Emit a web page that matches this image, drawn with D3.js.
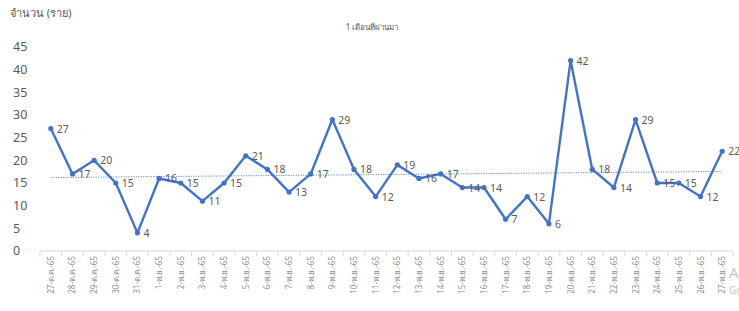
<!DOCTYPE html>
<html>
<head>
<meta charset="utf-8">
<script src="https://cdn.jsdelivr.net/npm/d3@7"></script>
<style>
  body { margin: 0; background: #fff; }
  svg { display: block; }
</style>
</head>
<body>
<div id="chart"></div>
<script>
// chart data
var days = ["27-ต.ค.-65", "28-ต.ค.-65", "29-ต.ค.-65", "30-ต.ค.-65", "31-ต.ค.-65",
  "1-พ.ย.-65", "2-พ.ย.-65", "3-พ.ย.-65", "4-พ.ย.-65", "5-พ.ย.-65", "6-พ.ย.-65",
  "7-พ.ย.-65", "8-พ.ย.-65", "9-พ.ย.-65", "10-พ.ย.-65", "11-พ.ย.-65", "12-พ.ย.-65",
  "13-พ.ย.-65", "14-พ.ย.-65", "15-พ.ย.-65", "16-พ.ย.-65", "17-พ.ย.-65", "18-พ.ย.-65",
  "19-พ.ย.-65", "20-พ.ย.-65", "21-พ.ย.-65", "22-พ.ย.-65", "23-พ.ย.-65", "24-พ.ย.-65",
  "25-พ.ย.-65", "26-พ.ย.-65", "27-พ.ย.-65"];
var cases = [27, 17, 20, 15, 4, 16, 15, 11, 15, 21, 18, 13, 17, 29, 18, 12, 19, 16, 17,
  14, 14, 7, 12, 6, 42, 18, 14, 29, 15, 15, 12, 22];
var yTicks = [0, 5, 10, 15, 20, 25, 30, 35, 40, 45];

var svgWidth = 739;
var svgHeight = 311;
var margin = { top: 47, right: 6, bottom: 60, left: 40 };
var width = svgWidth - margin.left - margin.right;
var height = svgHeight - margin.top - margin.bottom;

var svg = d3.select("#chart")
  .append("svg")
  .attr("width", svgWidth)
  .attr("height", svgHeight)
  .style("font-family", "'Noto Sans', 'Liberation Sans', sans-serif");

var chart = svg.append("g")
  .attr("transform", `translate(${margin.left}, ${margin.top})`);

// scales
var x = d3.scaleBand().domain(days).range([0, width]);
var y = d3.scaleLinear().domain([0, 45]).range([height, 0]);
var cx = d => x(d) + x.bandwidth() / 2;

// y tick labels, no axis line
chart.selectAll(".ylab")
  .data(yTicks)
  .enter()
  .append("text")
  .attr("x", -27)
  .attr("y", d => y(d))
  .attr("dy", "0.35em")
  .attr("font-size", "12.5px")
  .attr("fill", "#595959")
  .text(d => d);

// x axis line + ticks between categories
chart.append("line")
  .attr("x1", 0).attr("x2", width)
  .attr("y1", height).attr("y2", height)
  .attr("stroke", "#d9d9d9");

chart.selectAll(".xtick")
  .data(days.concat(["end"]))
  .enter()
  .append("line")
  .attr("x1", (d, i) => i * x.bandwidth())
  .attr("x2", (d, i) => i * x.bandwidth())
  .attr("y1", height).attr("y2", height + 5)
  .attr("stroke", "#d9d9d9");

chart.selectAll(".xlab")
  .data(days)
  .enter()
  .append("text")
  .attr("transform", d => `translate(${cx(d) + 3}, ${height + 5}) rotate(-90)`)
  .attr("text-anchor", "end")
  .attr("font-size", "8px")
  .attr("fill", "#8c8c8c")
  .text(d => d);

// linear trend line
var n = cases.length;
var mx = d3.mean(d3.range(n));
var my = d3.mean(cases);
var slope = d3.sum(cases, (v, i) => (i - mx) * (v - my)) / d3.sum(cases, (v, i) => (i - mx) * (i - mx));
var icpt = my - slope * mx;

chart.append("line")
  .attr("x1", cx(days[0]))
  .attr("x2", cx(days[n - 1]))
  .attr("y1", y(icpt))
  .attr("y2", y(icpt + slope * (n - 1)))
  .attr("stroke", "#4472c4")
  .attr("stroke-width", 1)
  .attr("stroke-dasharray", "1,1.5");

// series line
var line = d3.line()
  .x((d, i) => cx(days[i]))
  .y(d => y(d));

chart.append("path")
  .datum(cases)
  .attr("d", line)
  .attr("fill", "none")
  .attr("stroke", "#4472c4")
  .attr("stroke-width", 2.4)
  .attr("stroke-linejoin", "round");

chart.selectAll("circle")
  .data(cases)
  .enter()
  .append("circle")
  .attr("cx", (d, i) => cx(days[i]))
  .attr("cy", d => y(d))
  .attr("r", 2.6)
  .attr("fill", "#4472c4");

// data labels on the right
chart.selectAll(".dlab")
  .data(cases)
  .enter()
  .append("text")
  .attr("x", (d, i) => cx(days[i]) + 6)
  .attr("y", d => y(d))
  .attr("dy", "0.38em")
  .attr("font-size", "10.5px")
  .attr("fill", "#595959")
  .text(d => d);

// titles
svg.append("text")
  .attr("x", 10)
  .attr("y", 17)
  .attr("font-size", "11px")
  .attr("fill", "#595959")
  .text("จำนวน (ราย)");

svg.append("text")
  .attr("x", 372)
  .attr("y", 30)
  .attr("text-anchor", "middle")
  .attr("font-size", "8px")
  .attr("fill", "#595959")
  .text("1 เดือนที่ผ่านมา");

// watermark cut at the edge
svg.append("text")
  .attr("x", 729).attr("y", 278)
  .attr("font-size", "15px").attr("fill", "#c8c8c8")
  .text("Activate Windows");
svg.append("text")
  .attr("x", 729).attr("y", 294)
  .attr("font-size", "10px").attr("fill", "#c8c8c8")
  .text("Go to Settings");
</script>
</body>
</html>
